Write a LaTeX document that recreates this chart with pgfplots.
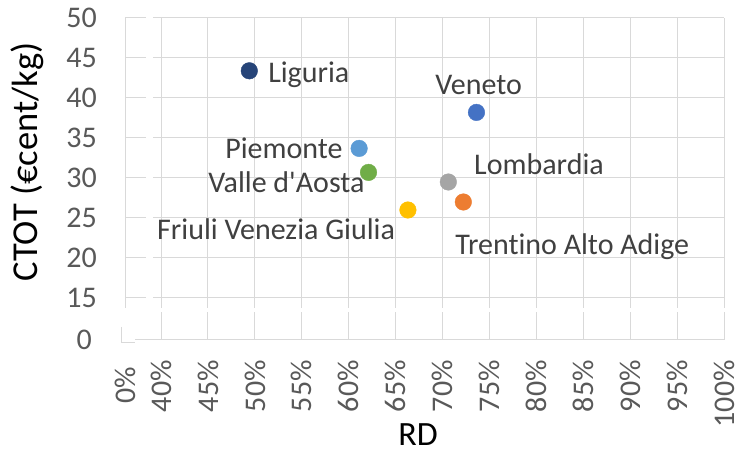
\documentclass[border=0pt]{standalone}
\usepackage{pgfplots}
\pgfplotsset{compat=1.18}
\usepackage{fontspec}
\setmainfont{Carlito}[Ligatures={NoCommon}]
\definecolor{gridc}{HTML}{D9D9D9}
\definecolor{tickc}{HTML}{595959}
\definecolor{labc}{HTML}{404040}
\definecolor{cLig}{HTML}{264478}
\definecolor{cVen}{HTML}{4472C4}
\definecolor{cPie}{HTML}{5B9BD5}
\definecolor{cVal}{HTML}{70AD47}
\definecolor{cLom}{HTML}{A5A5A5}
\definecolor{cTre}{HTML}{ED7D31}
\definecolor{cFri}{HTML}{FFC000}
\tikzset{lab/.style={anchor=base west, inner sep=0pt, text=labc, font=\fontsize{30bp}{36bp}\selectfont}}
\begin{document}
\begin{tikzpicture}
\useasboundingbox (0,0) rectangle (738bp,451bp);
\begin{axis}[
  at={(125bp,111bp)}, anchor=south west,
  scale only axis, width=599.3bp, height=322bp,
  xmin=36.16, xmax=100, ymin=9.75, ymax=50,
  clip=false,
  axis line style={draw=none},
  major tick length=0pt, minor tick length=0pt,
  xtick={40,45,50,55,60,65,70,75,80,85,90,95,100},
  xticklabels={40\%,45\%,50\%,55\%,60\%,65\%,70\%,75\%,80\%,85\%,90\%,95\%,100\%},
  ytick={15,20,25,30,35,40,45,50},
  yticklabels={15,20,25,30,35,40,45,50},
  extra x ticks={36.16}, extra x tick labels={0\%\kern7bp},
  extra y ticks={9.75}, extra y tick labels={0\kern5bp},
  extra tick style={grid=none},
  grid=major,
  major grid style={draw=gridc, line width=1bp},
  ticklabel style={font=\fontsize{30bp}{36bp}\selectfont, text=tickc, inner sep=0pt},
  xticklabel style={rotate=90, anchor=east},
  yticklabel style={anchor=east},
  xticklabel shift=20bp,
  yticklabel shift=28bp,
  xlabel={RD},
  ylabel={CTOT (€cent/kg)},
  xlabel style={at={(axis description cs:0.4889,-0.3261)}, anchor=base, inner sep=0pt, font=\fontsize{34bp}{40bp}\selectfont, text=black},
  ylabel style={at={(axis description cs:-0.1468,0.5528)}, anchor=base, inner sep=0pt, font=\fontsize{36.5bp}{44bp}\selectfont, text=black},
]
% axis breaks
\fill[white] (axis cs:38.40,9.75) rectangle (axis cs:39.15,50.2);
\fill[white] (axis cs:36.0,13.29) rectangle (axis cs:100.3,13.71);
% axis lines
\draw[gridc, line width=1bp] (axis cs:36.16,50) -- (axis cs:36.16,13.71);
\draw[gridc, line width=1bp] (axis cs:35.74,11.375) -- (axis cs:35.74,9.375) -- (axis cs:37.23,9.375);
\draw[gridc, line width=1bp] (axis cs:37.23,9.75) -- (axis cs:100,9.75);
% data
\addplot[only marks, mark=*, mark size=8.3bp, draw=cLig, fill=cLig] coordinates {(49.4,43.4)};
\addplot[only marks, mark=*, mark size=8.3bp, draw=cVen, fill=cVen] coordinates {(73.6,38.2)};
\addplot[only marks, mark=*, mark size=8.3bp, draw=cPie, fill=cPie] coordinates {(61.1,33.7)};
\addplot[only marks, mark=*, mark size=8.3bp, draw=cVal, fill=cVal] coordinates {(62.1,30.7)};
\addplot[only marks, mark=*, mark size=8.3bp, draw=cLom, fill=cLom] coordinates {(70.6,29.5)};
\addplot[only marks, mark=*, mark size=8.3bp, draw=cTre, fill=cTre] coordinates {(72.2,27.0)};
\addplot[only marks, mark=*, mark size=8.3bp, draw=cFri, fill=cFri] coordinates {(66.3,26.0)};
% labels
\node[lab] at (axis cs:51.40,41.96) {Liguria};
\node[lab] at (axis cs:69.19,40.46) {Veneto};
\node[lab] at (axis cs:46.82,32.375) {Piemonte};
\node[lab] at (axis cs:45.01,28.16) {Valle d\textquotesingle Aosta};
\node[lab] at (axis cs:39.57,22.25) {Friuli Venezia Giulia};
\node[lab] at (axis cs:73.34,30.46) {Lombardia};
\node[lab] at (axis cs:71.32,20.375) {Trentino Alto Adige};
\end{axis}
\end{tikzpicture}
\end{document}
